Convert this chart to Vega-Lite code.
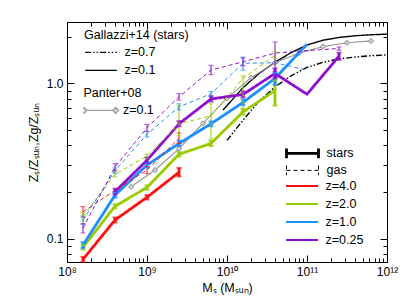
{
  "$schema": "https://vega.github.io/schema/vega-lite/v6.json",
  "width": 320,
  "height": 240,
  "autosize": {"type": "none"},
  "padding": {"left": 67, "top": 22, "right": 20, "bottom": 44},
  "config": {
    "font": "Liberation Sans",
    "view": {"stroke": "black", "strokeWidth": 1},
    "axis": {"grid": false, "domain": false, "tickColor": "black", "labelColor": "black", "titleColor": "black", "labelFontSize": 12, "titleFontSize": 12.5, "titleFontWeight": "normal", "labelOverlap": false, "labelFlush": false, "tickWidth": 1},
    "legend": {"labelFontSize": 12.5, "labelColor": "black", "titleFontSize": 12.5, "titleFontWeight": "normal", "titleColor": "black", "rowPadding": 0, "padding": 0, "labelOffset": 6.5, "titlePadding": 2}
  },
  "datasets": {
    "sim": [
      {"z": "z=4.0", "t": "stars", "m": 158489319, "v": 0.0737, "lo": 0.0712, "hi": 0.0763},
      {"z": "z=4.0", "t": "stars", "m": 398107171, "v": 0.132, "lo": 0.127, "hi": 0.137},
      {"z": "z=4.0", "t": "stars", "m": 1000000000, "v": 0.185, "lo": 0.179, "hi": 0.191},
      {"z": "z=4.0", "t": "stars", "m": 2511886432, "v": 0.268, "lo": 0.252, "hi": 0.286},
      {"z": "z=2.0", "t": "stars", "m": 158489319, "v": 0.088, "lo": 0.085, "hi": 0.091},
      {"z": "z=2.0", "t": "stars", "m": 398107171, "v": 0.162, "lo": 0.157, "hi": 0.167},
      {"z": "z=2.0", "t": "stars", "m": 1000000000, "v": 0.214, "lo": 0.207, "hi": 0.221},
      {"z": "z=2.0", "t": "stars", "m": 2511886432, "v": 0.35, "lo": 0.338, "hi": 0.362},
      {"z": "z=2.0", "t": "stars", "m": 6309573445, "v": 0.411, "lo": 0.395, "hi": 0.428},
      {"z": "z=2.0", "t": "stars", "m": 15848931925, "v": 0.656, "lo": 0.63, "hi": 0.685},
      {"z": "z=2.0", "t": "stars", "m": 39810717055, "v": 0.9, "lo": 0.72, "hi": 1.05},
      {"z": "z=1.0", "t": "stars", "m": 158489319, "v": 0.091, "lo": 0.087, "hi": 0.095},
      {"z": "z=1.0", "t": "stars", "m": 398107171, "v": 0.191, "lo": 0.184, "hi": 0.198},
      {"z": "z=1.0", "t": "stars", "m": 1000000000, "v": 0.298, "lo": 0.288, "hi": 0.308},
      {"z": "z=1.0", "t": "stars", "m": 2511886432, "v": 0.411, "lo": 0.395, "hi": 0.428},
      {"z": "z=1.0", "t": "stars", "m": 6309573445, "v": 0.55, "lo": 0.53, "hi": 0.57},
      {"z": "z=1.0", "t": "stars", "m": 15848931925, "v": 0.755, "lo": 0.725, "hi": 0.79},
      {"z": "z=1.0", "t": "stars", "m": 39810717055, "v": 1.08, "lo": 0.98, "hi": 1.17},
      {"z": "z=1.0", "t": "stars", "m": 100000000000, "v": 1.79, "lo": null, "hi": null},
      {"z": "z=0.25", "t": "stars", "m": 398107171, "v": 0.201, "lo": 0.193, "hi": 0.21},
      {"z": "z=0.25", "t": "stars", "m": 1000000000, "v": 0.32, "lo": 0.308, "hi": 0.333},
      {"z": "z=0.25", "t": "stars", "m": 2511886432, "v": 0.55, "lo": 0.53, "hi": 0.572},
      {"z": "z=0.25", "t": "stars", "m": 6309573445, "v": 0.795, "lo": 0.765, "hi": 0.83},
      {"z": "z=0.25", "t": "stars", "m": 15848931925, "v": 0.85, "lo": 0.815, "hi": 0.89},
      {"z": "z=0.25", "t": "stars", "m": 39810717055, "v": 1.16, "lo": 1.08, "hi": 1.25},
      {"z": "z=0.25", "t": "stars", "m": 100000000000, "v": 0.853, "lo": null, "hi": null},
      {"z": "z=0.25", "t": "stars", "m": 251188643151, "v": 1.5, "lo": 1.42, "hi": 1.58},
      {"z": "z=4.0", "t": "gas", "m": 158489319, "v": 0.149, "lo": 0.138, "hi": 0.161},
      {"z": "z=4.0", "t": "gas", "m": 398107171, "v": 0.205, "lo": null, "hi": null},
      {"z": "z=4.0", "t": "gas", "m": 1000000000, "v": 0.277, "lo": 0.262, "hi": 0.292},
      {"z": "z=4.0", "t": "gas", "m": 2511886432, "v": 0.443, "lo": 0.41, "hi": 0.48},
      {"z": "z=2.0", "t": "gas", "m": 158489319, "v": 0.139, "lo": 0.13, "hi": 0.148},
      {"z": "z=2.0", "t": "gas", "m": 398107171, "v": 0.26, "lo": 0.25, "hi": 0.27},
      {"z": "z=2.0", "t": "gas", "m": 1000000000, "v": 0.34, "lo": 0.33, "hi": 0.35},
      {"z": "z=2.0", "t": "gas", "m": 2511886432, "v": 0.55, "lo": 0.46, "hi": 0.72},
      {"z": "z=2.0", "t": "gas", "m": 6309573445, "v": 0.62, "lo": 0.44, "hi": 0.74},
      {"z": "z=2.0", "t": "gas", "m": 15848931925, "v": 1.08, "lo": 0.66, "hi": 1.12},
      {"z": "z=2.0", "t": "gas", "m": 39810717055, "v": 1.52, "lo": 1.45, "hi": 1.6},
      {"z": "z=1.0", "t": "gas", "m": 158489319, "v": 0.132, "lo": 0.124, "hi": 0.14},
      {"z": "z=1.0", "t": "gas", "m": 398107171, "v": 0.275, "lo": 0.264, "hi": 0.286},
      {"z": "z=1.0", "t": "gas", "m": 1000000000, "v": 0.47, "lo": 0.452, "hi": 0.49},
      {"z": "z=1.0", "t": "gas", "m": 2511886432, "v": 0.707, "lo": 0.675, "hi": 0.74},
      {"z": "z=1.0", "t": "gas", "m": 6309573445, "v": 0.86, "lo": 0.83, "hi": 0.89},
      {"z": "z=1.0", "t": "gas", "m": 15848931925, "v": 1.35, "lo": 1.22, "hi": 1.48},
      {"z": "z=1.0", "t": "gas", "m": 39810717055, "v": 1.36, "lo": null, "hi": null},
      {"z": "z=1.0", "t": "gas", "m": 100000000000, "v": 1.22, "lo": null, "hi": null},
      {"z": "z=0.25", "t": "gas", "m": 158489319, "v": 0.117, "lo": 0.109, "hi": 0.125},
      {"z": "z=0.25", "t": "gas", "m": 398107171, "v": 0.29, "lo": 0.276, "hi": 0.305},
      {"z": "z=0.25", "t": "gas", "m": 1000000000, "v": 0.518, "lo": 0.492, "hi": 0.545},
      {"z": "z=0.25", "t": "gas", "m": 2511886432, "v": 0.82, "lo": 0.78, "hi": 0.86},
      {"z": "z=0.25", "t": "gas", "m": 6309573445, "v": 1.22, "lo": 1.14, "hi": 1.31},
      {"z": "z=0.25", "t": "gas", "m": 15848931925, "v": 1.38, "lo": 1.3, "hi": 1.46},
      {"z": "z=0.25", "t": "gas", "m": 39810717055, "v": 1.57, "lo": 1.2, "hi": 1.85},
      {"z": "z=0.25", "t": "gas", "m": 100000000000, "v": 1.63, "lo": null, "hi": null},
      {"z": "z=0.25", "t": "gas", "m": 251188643151, "v": 1.68, "lo": 1.64, "hi": 1.72}
    ],
    "panter": [
      {"s": "z=0.1", "m": 630957344, "v": 0.216},
      {"s": "z=0.1", "m": 1258925412, "v": 0.277},
      {"s": "z=0.1", "m": 2511886432, "v": 0.38},
      {"s": "z=0.1", "m": 5011872336, "v": 0.553},
      {"s": "z=0.1", "m": 10000000000, "v": 0.805},
      {"s": "z=0.1", "m": 19952623150, "v": 1.09},
      {"s": "z=0.1", "m": 39810717055, "v": 1.36},
      {"s": "z=0.1", "m": 79432823472, "v": 1.57},
      {"s": "z=0.1", "m": 158489319246, "v": 1.73},
      {"s": "z=0.1", "m": 316227766017, "v": 1.83},
      {"s": "z=0.1", "m": 630957344480, "v": 1.88}
    ],
    "gallazzi": [
      {"z": "z=0.1", "m": 8912509381, "v": 0.675},
      {"z": "z=0.1", "m": 10000000000, "v": 0.72},
      {"z": "z=0.1", "m": 15848931925, "v": 0.94},
      {"z": "z=0.1", "m": 25118864315, "v": 1.16},
      {"z": "z=0.1", "m": 39810717055, "v": 1.37},
      {"z": "z=0.1", "m": 63095734448, "v": 1.58},
      {"z": "z=0.1", "m": 100000000000, "v": 1.77},
      {"z": "z=0.1", "m": 158489319246, "v": 1.9},
      {"z": "z=0.1", "m": 251188643151, "v": 1.98},
      {"z": "z=0.1", "m": 398107170553, "v": 2.03},
      {"z": "z=0.1", "m": 630957344480, "v": 2.06},
      {"z": "z=0.1", "m": 1000000000000, "v": 2.08},
      {"z": "z=0.7", "m": 10000000000, "v": 0.43},
      {"z": "z=0.7", "m": 15848931925, "v": 0.58},
      {"z": "z=0.7", "m": 25118864315, "v": 0.77},
      {"z": "z=0.7", "m": 39810717055, "v": 0.95},
      {"z": "z=0.7", "m": 63095734448, "v": 1.12},
      {"z": "z=0.7", "m": 100000000000, "v": 1.27},
      {"z": "z=0.7", "m": 158489319246, "v": 1.37},
      {"z": "z=0.7", "m": 251188643151, "v": 1.44},
      {"z": "z=0.7", "m": 398107170553, "v": 1.48},
      {"z": "z=0.7", "m": 630957344480, "v": 1.51},
      {"z": "z=0.7", "m": 1000000000000, "v": 1.53}
    ]
  },
  "layer": [
    {
      "data": {"name": "gallazzi"},
      "mark": {"type": "line", "color": "black", "strokeWidth": 1.4},
      "encoding": {
        "x": {"field": "m", "type": "quantitative", "scale": {"type": "log", "domain": [1e8, 1e12], "nice": false},
          "axis": {"orient": "bottom", "values": [1e8, 1e9, 1e10, 1e11, 1e12], "ticks": false,
            "labelExpr": "datum.value==1e8?'10⁸':datum.value==1e9?'10⁹':datum.value==1e10?'10¹⁰':datum.value==1e11?'10¹¹':datum.value==1e12?'10¹²':''",
            "labelPadding": 4, "title": "Mₛ (Mₛᵤₙ)", "titlePadding": 4}},
        "y": {"field": "v", "type": "quantitative", "scale": {"type": "log", "domain": [0.0708, 2.49], "nice": false},
          "axis": {"orient": "left", "values": [0.1, 1], "ticks": false,
            "labelExpr": "datum.value==0.1?'0.1':datum.value==1?'1.0':''",
            "labelPadding": 4, "title": "Zₛ/Zₛᵤₙ,Zg/Zₛᵤₙ", "titlePadding": 6}},
        "strokeDash": {"field": "z", "type": "nominal", "scale": {"domain": ["z=0.7", "z=0.1"], "range": [[6,2,1.5,2,1.5,2],[1,0]]},
          "legend": {"title": "Gallazzi+14 (stars)", "orient": "none", "legendX": 17, "legendY": 7, "symbolType": "stroke", "symbolSize": 1000, "symbolStrokeColor": "black", "symbolStrokeWidth": 1.4, "clipHeight": 17.7}}
      }
    },
    {
      "data": {"name": "panter"},
      "mark": {"type": "line", "strokeWidth": 1.2},
      "encoding": {
        "x": {"field": "m", "type": "quantitative", "scale": {"type": "log", "domain": [1e8, 1e12], "nice": false},
          "axis": {"orient": "top", "values": [1e8, 1e9, 1e10, 1e11, 1e12], "labels": false, "title": null, "tickSize": -7}},
        "y": {"field": "v", "type": "quantitative", "scale": {"type": "log", "domain": [0.0708, 2.49], "nice": false},
          "axis": {"orient": "right", "values": [0.1, 1], "labels": false, "title": null, "tickSize": -7}},
        "color": {"field": "s", "type": "nominal", "scale": {"domain": ["z=0.1"], "range": ["#9a9a9a"]},
          "legend": {"title": "Panter+08", "orient": "none", "legendX": 16.4, "legendY": 65, "symbolType": "M-1,-0.19L-0.81,0L-1,0.19L-1.19,0ZM-0.81,0H0.81M1,-0.19L1.19,0L1,0.19L0.81,0Z", "symbolSize": 1000, "symbolStrokeWidth": 1.2, "symbolFillColor": "#d0d0d0", "clipHeight": 17.7}}
      }
    },
    {
      "data": {"name": "panter"},
      "mark": {"type": "point", "shape": "diamond", "filled": true, "fill": "#cfcfcf", "stroke": "#8f8f8f", "strokeWidth": 1, "size": 28, "opacity": 1},
      "encoding": {
        "x": {"field": "m", "type": "quantitative", "scale": {"type": "log", "domain": [1e8, 1e12], "nice": false},
          "axis": {"orient": "bottom", "values": [1e8, 1e9, 1e10, 1e11, 1e12], "labels": false, "title": null, "tickSize": -7}},
        "y": {"field": "v", "type": "quantitative", "scale": {"type": "log", "domain": [0.0708, 2.49], "nice": false},
          "axis": {"orient": "left", "values": [0.1, 1], "labels": false, "title": null, "tickSize": -7}}
      }
    },
    {
      "data": {"name": "sim"},
      "mark": {"type": "line"},
      "encoding": {
        "x": {"field": "m", "type": "quantitative", "scale": {"type": "log", "domain": [1e8, 1e12], "nice": false},
          "axis": {"orient": "top", "values": [2e8,3e8,4e8,5e8,6e8,7e8,8e8,9e8,2e9,3e9,4e9,5e9,6e9,7e9,8e9,9e9,2e10,3e10,4e10,5e10,6e10,7e10,8e10,9e10,2e11,3e11,4e11,5e11,6e11,7e11,8e11,9e11], "labels": false, "title": null, "tickSize": -4}},
        "y": {"field": "v", "type": "quantitative", "scale": {"type": "log", "domain": [0.0708, 2.49], "nice": false},
          "axis": {"orient": "right", "values": [0.08,0.09,0.2,0.3,0.4,0.5,0.6,0.7,0.8,0.9,2], "labels": false, "title": null, "tickSize": -4}},
        "color": {"field": "z", "type": "nominal", "scale": {"domain": ["z=4.0", "z=2.0", "z=1.0", "z=0.25"], "range": ["#ff1010", "#99cc00", "#1e8fff", "#9010d0"]},
          "legend": {"title": null, "orient": "none", "legendX": 218, "legendY": 155.5, "symbolType": "stroke", "symbolSize": 1024, "symbolStrokeWidth": 2, "clipHeight": 17.1}},
        "strokeDash": {"field": "t", "type": "nominal", "scale": {"domain": ["stars", "gas"], "range": [[1,0],[4,3]]},
          "legend": {"title": null, "orient": "none", "legendX": 218, "legendY": 123, "symbolType": "M-1,-0.3V0.3M-1,0H1M1,-0.3V0.3", "symbolSize": 1024, "symbolStrokeColor": "black", "clipHeight": 16.7}},
        "strokeWidth": {"field": "t", "type": "ordinal", "scale": {"domain": ["stars", "gas"], "range": [2.8, 1]},
          "legend": {"title": null, "orient": "none", "legendX": 218, "legendY": 123, "symbolType": "M-1,-0.3V0.3M-1,0H1M1,-0.3V0.3", "symbolSize": 1024, "symbolStrokeColor": "black", "clipHeight": 16.7}}
      }
    },
    {
      "data": {"name": "sim"},
      "transform": [{"filter": "isValid(datum.lo)"}],
      "mark": {"type": "rule"},
      "encoding": {
        "x": {"field": "m", "type": "quantitative", "scale": {"type": "log", "domain": [1e8, 1e12], "nice": false},
          "axis": {"orient": "bottom", "values": [2e8,3e8,4e8,5e8,6e8,7e8,8e8,9e8,2e9,3e9,4e9,5e9,6e9,7e9,8e9,9e9,2e10,3e10,4e10,5e10,6e10,7e10,8e10,9e10,2e11,3e11,4e11,5e11,6e11,7e11,8e11,9e11], "labels": false, "title": null, "tickSize": -4}},
        "y": {"field": "lo", "type": "quantitative", "scale": {"type": "log", "domain": [0.0708, 2.49], "nice": false},
          "axis": {"orient": "left", "values": [0.08,0.09,0.2,0.3,0.4,0.5,0.6,0.7,0.8,0.9,2], "labels": false, "title": null, "tickSize": -4}},
        "y2": {"field": "hi"},
        "color": {"field": "z", "type": "nominal", "scale": {"domain": ["z=4.0", "z=2.0", "z=1.0", "z=0.25"], "range": ["#ff1010", "#99cc00", "#1e8fff", "#9010d0"]}, "legend": null},
        "strokeWidth": {"field": "t", "type": "ordinal", "scale": {"domain": ["stars", "gas"], "range": [2.8, 1]}, "legend": null}
      }
    },
    {
      "data": {"name": "sim"},
      "transform": [{"filter": "isValid(datum.lo) && datum.t=='stars'"}, {"fold": ["lo", "hi"], "as": ["end", "ev"]}],
      "mark": {"type": "tick", "orient": "horizontal", "size": 5, "thickness": 2},
      "encoding": {
        "x": {"field": "m", "type": "quantitative", "scale": {"type": "log", "domain": [1e8, 1e12], "nice": false}, "axis": null},
        "y": {"field": "ev", "type": "quantitative", "scale": {"type": "log", "domain": [0.0708, 2.49], "nice": false}, "axis": null},
        "color": {"field": "z", "type": "nominal", "scale": {"domain": ["z=4.0", "z=2.0", "z=1.0", "z=0.25"], "range": ["#ff1010", "#99cc00", "#1e8fff", "#9010d0"]}, "legend": null}
      }
    },
    {
      "data": {"name": "sim"},
      "transform": [{"filter": "isValid(datum.lo) && datum.t=='gas'"}, {"fold": ["lo", "hi"], "as": ["end", "ev"]}],
      "mark": {"type": "tick", "orient": "horizontal", "size": 5, "thickness": 1},
      "encoding": {
        "x": {"field": "m", "type": "quantitative", "scale": {"type": "log", "domain": [1e8, 1e12], "nice": false}, "axis": null},
        "y": {"field": "ev", "type": "quantitative", "scale": {"type": "log", "domain": [0.0708, 2.49], "nice": false}, "axis": null},
        "color": {"field": "z", "type": "nominal", "scale": {"domain": ["z=4.0", "z=2.0", "z=1.0", "z=0.25"], "range": ["#ff1010", "#99cc00", "#1e8fff", "#9010d0"]}, "legend": null}
      }
    }
  ],
  "resolve": {
    "scale": {"color": "independent", "strokeDash": "independent", "strokeWidth": "independent"},
    "axis": {"x": "independent", "y": "independent"}
  }
}
